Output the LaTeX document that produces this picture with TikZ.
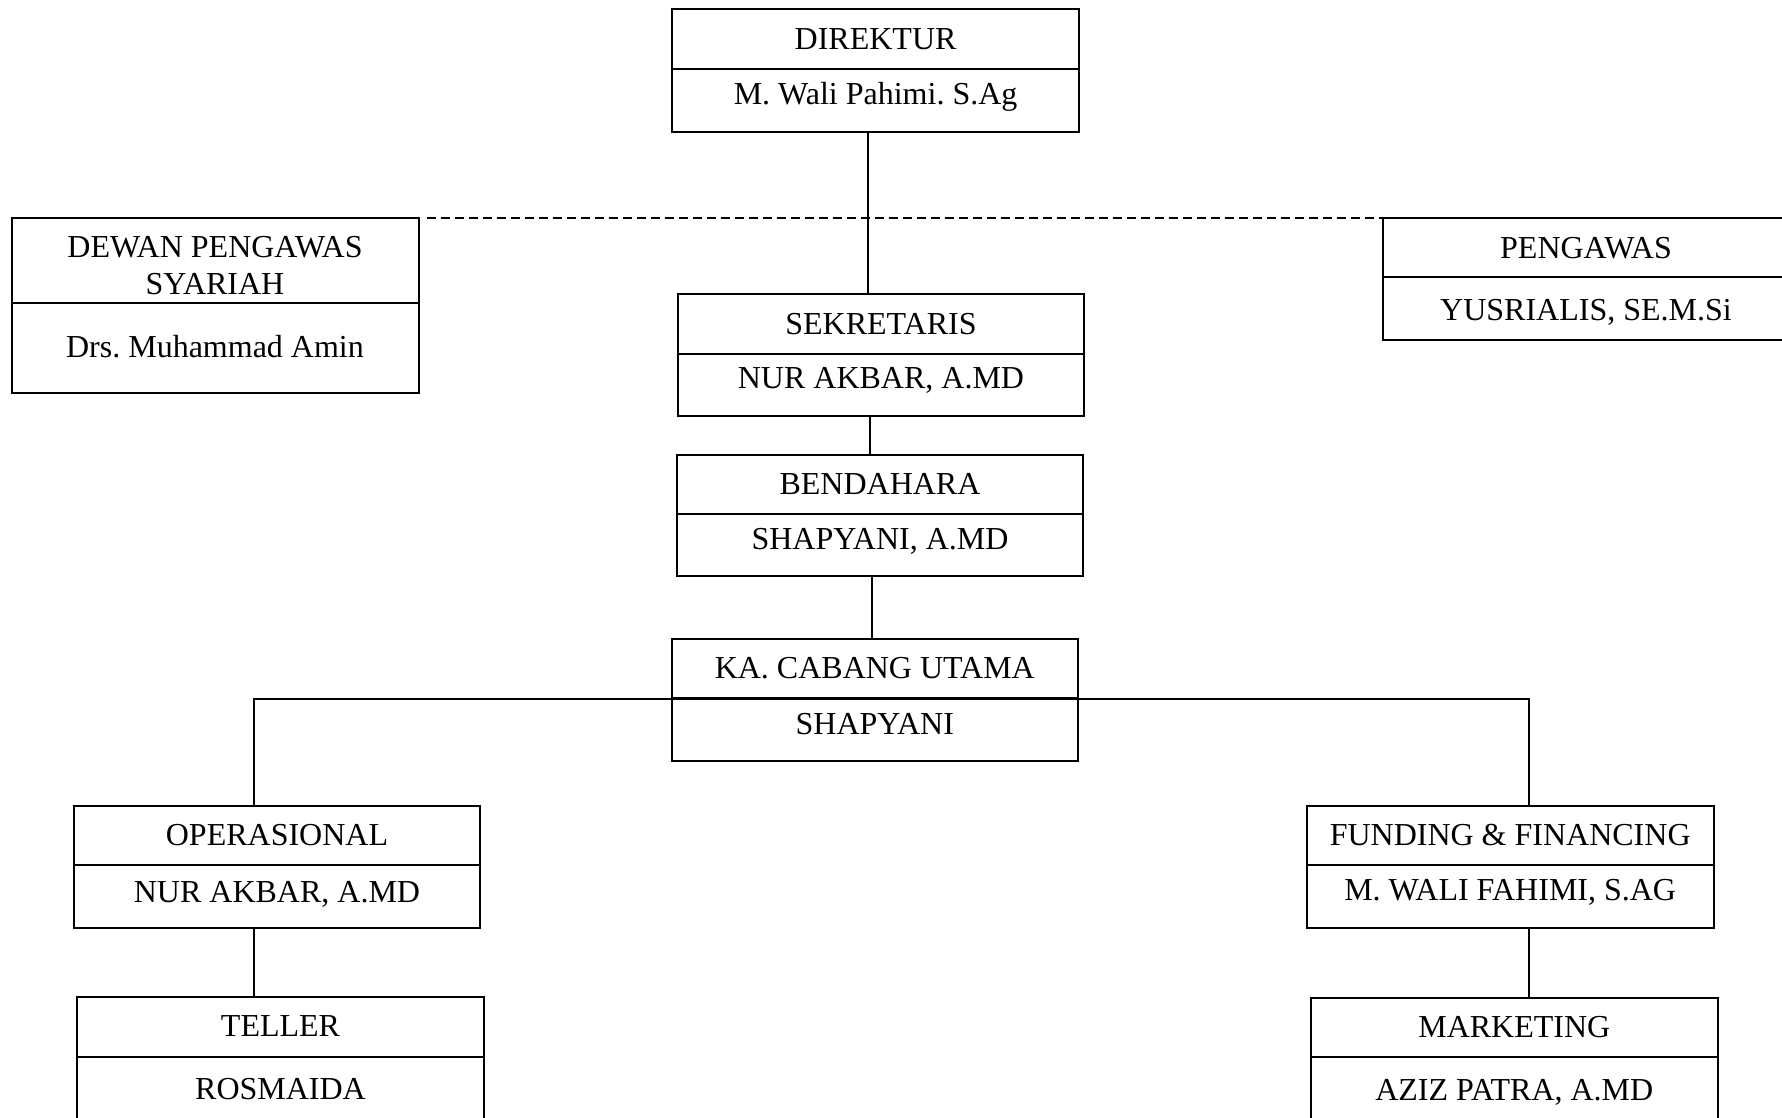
\documentclass[tikz,border=0pt]{standalone}
\usepackage{fontspec}
\setmainfont{Liberation Serif}
\begin{document}
\frenchspacing
\begin{tikzpicture}[x=1pt,y=-1pt,
  orgnode/.style={draw=black, line width=2pt, inner sep=0pt, outer sep=0pt, rectangle},
  orgline/.style={draw=black, line width=2pt},
  conn/.style={draw=black, line width=2pt},
  dashconn/.style={draw=black, line width=1.8pt, dash pattern=on 9pt off 5pt},
  lbl/.style={anchor=base, inner sep=0pt, font=\fontsize{32}{38}\selectfont\frenchspacing}]
\useasboundingbox (0,0) rectangle (1782,1118);
\clip (0,0) rectangle (1782,1118);
\newcommand\orgbox[6]{%
  \pgfmathsetmacro\bw{#4-#2}\pgfmathsetmacro\bh{#5-#3}%
  \node[orgnode, minimum width=\bw pt, minimum height=\bh pt, anchor=north west] (#1) at (#2,#3) {};
  \draw[orgline] (#2,#6) -- (#4,#6);}
% boxes: name, left, top, right, bottom, divider
\orgbox{dir}{672.3}{9.3}{1079}{131.7}{69}
\orgbox{sek}{677.7}{294}{1084.3}{416}{353.7}
\orgbox{bend}{676.7}{454.7}{1083.3}{576.3}{514.3}
\orgbox{ka}{671.7}{639.3}{1078}{761}{698.3}
\orgbox{dewan}{11.7}{217.7}{418.5}{393.3}{303.3}
\orgbox{peng}{1383.3}{217.7}{1790}{340}{277.3}
\orgbox{op}{73.7}{805.7}{480.3}{927.7}{864.7}
\orgbox{fund}{1306.7}{806}{1713.7}{928.3}{865.3}
\orgbox{tel}{77.3}{996.7}{483.7}{1130}{1056.7}
\orgbox{mark}{1311}{997.7}{1717.7}{1130}{1057.3}
% labels
\node[lbl] (dirt) at (875.6,49.3) {DIREKTUR};
\node[lbl] (dirn) at (875.6,105) {M. Wali Pahimi. S.Ag};
\node[lbl] (sekt) at (881,334) {SEKRETARIS};
\node[lbl] (sekn) at (881,388.7) {NUR AKBAR, A.MD};
\node[lbl] (bendt) at (880,494.3) {BENDAHARA};
\node[lbl] (bendn) at (880,549.3) {SHAPYANI, A.MD};
\node[lbl] (kat) at (874.8,678.3) {KA. CABANG UTAMA};
\node[lbl] (kan) at (874.8,734) {SHAPYANI};
\node[lbl] (dewant1) at (215,257.3) {DEWAN PENGAWAS};
\node[lbl] (dewant2) at (215,294.3) {SYARIAH};
\node[lbl] (dewann) at (215,357.7) {Drs. Muhammad Amin};
\node[lbl] (pengt) at (1586,258.3) {PENGAWAS};
\node[lbl] (pengn) at (1586,320.7) {YUSRIALIS, SE.M.Si};
\node[lbl] (opt) at (277,845) {OPERASIONAL};
\node[lbl] (opn) at (277,902.7) {NUR AKBAR, A.MD};
\node[lbl] (fundt) at (1510.2,845.7) {FUNDING \& FINANCING};
\node[lbl] (fundn) at (1510.2,900.7) {M. WALI FAHIMI, S.AG};
\node[lbl] (telt) at (280.5,1036.7) {TELLER};
\node[lbl] (teln) at (280.5,1099.3) {ROSMAIDA};
\node[lbl] (markt) at (1514.3,1037.7) {MARKETING};
\node[lbl] (markn) at (1514.3,1100) {AZIZ PATRA, A.MD};
% connector guide coordinates
\coordinate (x1) at (868,0);
\coordinate (x2) at (870,0);
\coordinate (x3) at (871.7,0);
\coordinate (bl) at (254,699);
\coordinate (br) at (1528.7,699);
% connectors
\draw[conn] (dir.south -| x1) -- (sek.north -| x1);
\draw[conn] (sek.south -| x2) -- (bend.north -| x2);
\draw[conn] (bend.south -| x3) -- (ka.north -| x3);
\draw[dashconn] ([xshift=8pt]dewan.north east) -- (peng.north west);
\draw[conn] (op.north -| bl) -- (bl) -- (br) -- (fund.north -| br);
\draw[conn] (op.south -| bl) -- (tel.north -| bl);
\draw[conn] (fund.south -| br) -- (mark.north -| br);
\end{tikzpicture}
\end{document}
